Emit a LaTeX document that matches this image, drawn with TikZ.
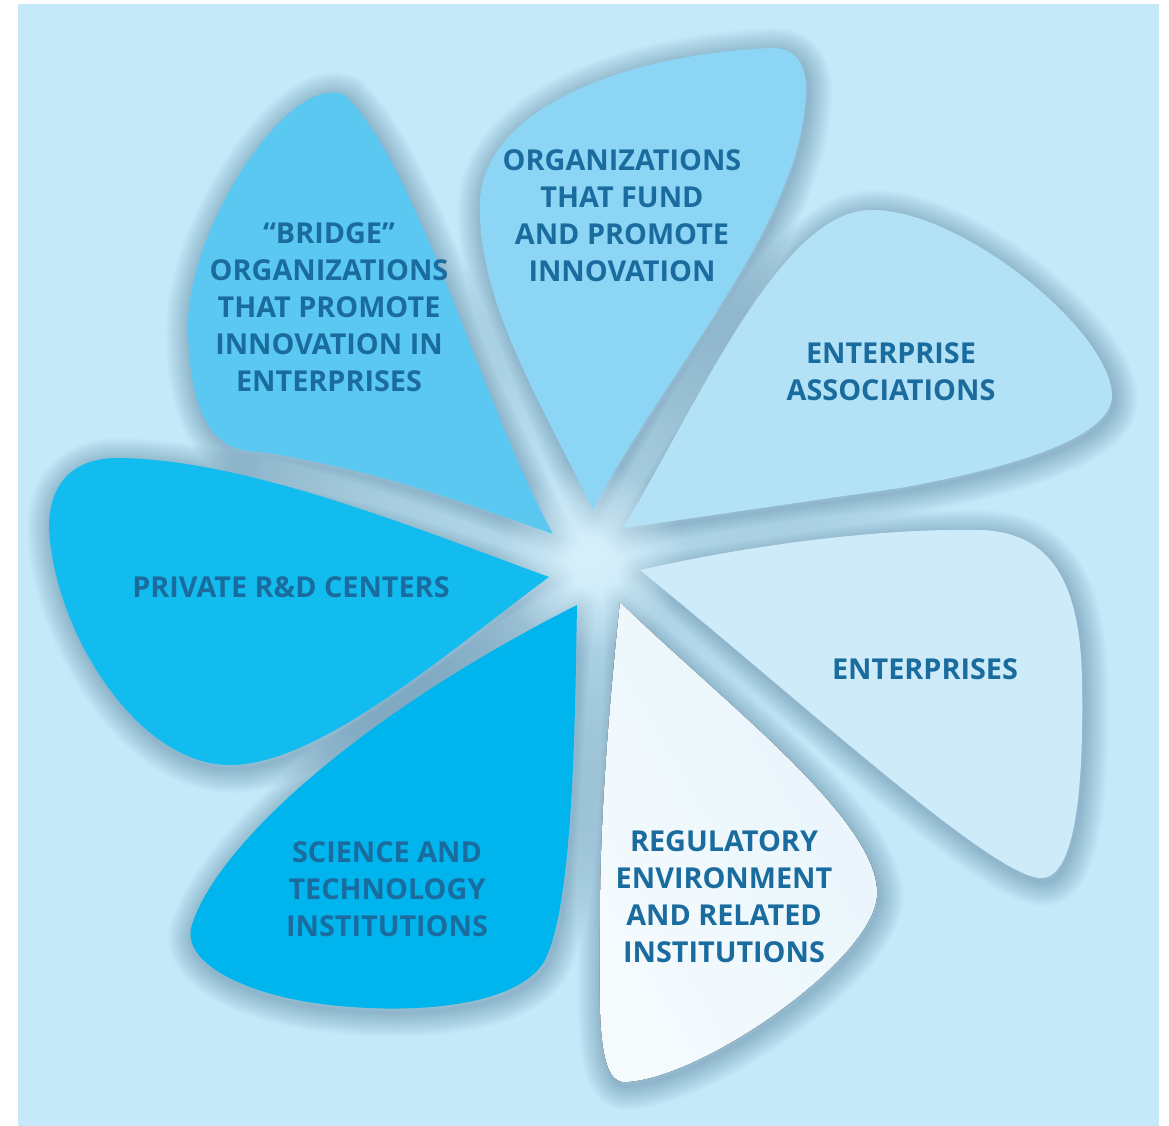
\documentclass[tikz,border=0pt]{standalone}
\usepackage{fontspec}
\setmainfont{Open Sans}
\usetikzlibrary{fadings}
\definecolor{bg}{HTML}{C6E9F9}
\definecolor{cA}{HTML}{5BC8F2}
\definecolor{cB}{HTML}{8DD5F5}
\definecolor{cC}{HTML}{B3E2F7}
\definecolor{cD}{HTML}{CDEBF9}
\definecolor{cE}{HTML}{EDF7FC}
\definecolor{cF}{HTML}{00B4ED}
\definecolor{cG}{HTML}{12BCEF}
\definecolor{txt}{HTML}{1B6C9E}
\definecolor{shc}{HTML}{2F5F80}
\definecolor{glowc}{HTML}{D8F0FB}
\tikzfading[name=glowfade, inner color=transparent!0, outer color=transparent!100]
\tikzset{
  pA/.style={insert path={(553,534) .. controls (480,400) and (420,170) .. (345,95) .. controls (290,70) and (185,230) .. (188,330) .. controls (190,420) and (215,452) .. (260,452) .. controls (380,470) and (470,505) .. (553,534) -- cycle}},
  pB/.style={insert path={(593,510) .. controls (540,400) and (476,300) .. (480,200) .. controls (485,110) and (620,55) .. (770,48) .. controls (800,47) and (810,70) .. (805,105) .. controls (795,230) and (660,380) .. (593,510) -- cycle}},
  pC/.style={insert path={(623,528) .. controls (700,400) and (780,212) .. (870,210) .. controls (960,208) and (1110,330) .. (1112,395) .. controls (1113,440) and (1000,470) .. (900,488) .. controls (780,505) and (680,520) .. (623,528) -- cycle}},
  pD/.style={insert path={(640,570) .. controls (750,545) and (880,528) .. (980,530) .. controls (1050,532) and (1080,580) .. (1082,680) .. controls (1084,790) and (1075,880) .. (1040,878) .. controls (990,875) and (800,700) .. (640,570) -- cycle}},
  pE/.style={insert path={(620,602) .. controls (720,700) and (880,820) .. (877,895) .. controls (874,960) and (700,1080) .. (625,1082) .. controls (595,1083) and (600,1000) .. (600,920) .. controls (600,800) and (612,680) .. (620,602) -- cycle}},
  pF/.style={insert path={(577,605) .. controls (575,700) and (575,900) .. (545,960) .. controls (520,1005) and (420,1015) .. (330,1005) .. controls (240,995) and (180,960) .. (192,925) .. controls (215,850) and (350,720) .. (577,605) -- cycle}},
  pG/.style={insert path={(549,577) .. controls (420,530) and (250,460) .. (120,458) .. controls (60,457) and (45,500) .. (50,540) .. controls (60,640) and (140,765) .. (230,765) .. controls (320,765) and (450,650) .. (549,577) -- cycle}},
  shadline/.style={draw=shc, draw opacity=0.024, line join=round, line width=#1},
  lbl/.style={font=\fontsize{28.8}{37}\selectfont\bfseries, text=txt, align=center, inner sep=0pt}
}
\begin{document}
\begin{tikzpicture}[x=1pt,y=-1pt]
\useasboundingbox (0,0) rectangle (1169,1126);
\fill[white] (0,0) rectangle (1169,1126);
\fill[bg] (18,4) rectangle (1159,1126);
% soft shadows
\begin{scope}
\clip (18,4) rectangle (1159,1126);
\begin{scope}[shift={(2,4)}]
\foreach \p in {pA,pB,pC,pD,pE,pF,pG}{
  \foreach \w in {3,6,...,48}{
    \path[shadline=\w pt, \p];
  }
}
\end{scope}
\fill[glowc, path fading=glowfade] (590,557) circle (95);
\end{scope}
% petals
\fill[cA, pA];
\fill[cB, pB];
\fill[cC, pC];
\fill[cD, pD];
\fill[left color=cE!55!white, right color=cE!80!cD, shading angle=120, pE];
\fill[cF, pF];
\fill[cG, pG];
% labels
\node[lbl] (tA) at (329,307.5) {“BRIDGE”\\ORGANIZATIONS\\THAT PROMOTE\\INNOVATION IN\\ENTERPRISES};
\node[lbl] (tB) at (622,216) {ORGANIZATIONS\\THAT FUND\\AND PROMOTE\\INNOVATION};
\node[lbl] (tC) at (891,371.5) {ENTERPRISE\\ASSOCIATIONS};
\node[lbl] (tD) at (925,669) {ENTERPRISES};
\node[lbl] (tE) at (724,897) {REGULATORY\\ENVIRONMENT\\AND RELATED\\INSTITUTIONS};
\node[lbl] (tF) at (387,889.5) {SCIENCE AND\\TECHNOLOGY\\INSTITUTIONS};
\node[lbl] (tG) at (291,587) {PRIVATE R\&D CENTERS};
\end{tikzpicture}
\end{document}
